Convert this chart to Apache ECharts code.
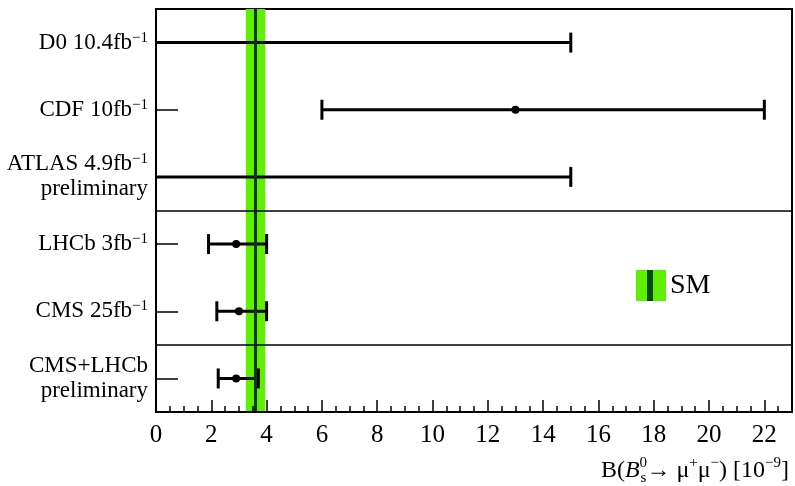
<!DOCTYPE html>
<html>
<head>
<meta charset="utf-8">
<script src="https://cdn.jsdelivr.net/npm/echarts@6/dist/echarts.min.js"></script>
<style>
  html, body { margin: 0; padding: 0; background: #fff; }
  #chart { width: 795px; height: 486px; }
</style>
</head>
<body>
<div id="chart"></div>
<script>
// Measurements, top to bottom (^ marks a superscript)
const experiments = ['D0 10.4fb^−1', 'CDF 10fb^−1', 'ATLAS 4.9fb^−1\npreliminary', 'LHCb 3fb^−1', 'CMS 25fb^−1', 'CMS+LHCb\npreliminary'];
const centralValues = [null, 13.0, null, 2.9, 3.0, 2.9];
const lowerEdges = [0, 6.0, 0, 1.9, 2.2, 2.25];
const upperEdges = [15, 22, 15, 4.0, 4.0, 3.7];
const isLimit = [true, false, true, false, false, false];

// Standard model prediction
const smValue = 3.6;
const smBand = [3.25, 3.95];

// categories that start a new section (horizontal separators)
const sectionStarts = [3, 5];

const serif = 'Liberation Serif';
const bandColor = '#5ef000';
const smLineColor = '#0d3b0d';

// legend icon: green box with dark stripe
const iconSvg = "<svg xmlns='http://www.w3.org/2000/svg' width='30' height='31'>" +
    "<rect width='30' height='31' fill='" + bandColor + "'/>" +
    "<rect x='11' width='6' height='31' fill='#0a4a0a'/></svg>";
const smIcon = 'image://data:image/svg+xml;charset=utf-8,' + encodeURIComponent(iconSvg);

// turn 'abc^xy' into rich text tokens
function richLabel(text) {
    return text.split('\n').map(line => {
        const parts = line.split('^');
        let out = '{m|' + parts[0] + '}';
        if (parts.length > 1) out += '{sup|' + parts[1] + '}';
        return out;
    }).join('\n');
}

const barData = experiments.map((name, i) => [
    i, lowerEdges[i], upperEdges[i],
    centralValues[i] === null ? '-' : centralValues[i],
    isLimit[i] ? 1 : 0
]);

const chart = echarts.init(document.getElementById('chart'));

const txt = { fontFamily: serif, color: '#000', fontWeight: 'normal' };

const options = {
    backgroundColor: '#fff',
    animation: false,
    grid: {
        left: 156, right: 3, top: 9, bottom: 74,
        show: true, borderColor: '#000', borderWidth: 2
    },
    title: {
        right: 1,
        top: 451,
        text: '{m|B(}{i|B}{sp|0}{sb|s}{m|→ μ}{sp2|+}{m|μ}{sp2|−}{m|) [10}{sp9|−9}{m|]}',
        textStyle: {
            fontWeight: 'normal',
            rich: {
                m: Object.assign({ fontSize: 24, lineHeight: 30 }, txt),
                i: Object.assign({ fontSize: 24, lineHeight: 30, fontStyle: 'italic' }, txt),
                sp: Object.assign({ fontSize: 15, lineHeight: 13, verticalAlign: 'top', width: 1 }, txt),
                sb: Object.assign({ fontSize: 15, lineHeight: 13, verticalAlign: 'bottom' }, txt),
                sp2: Object.assign({ fontSize: 15, lineHeight: 17, verticalAlign: 'top' }, txt),
                sp9: Object.assign({ fontSize: 15, lineHeight: 13, verticalAlign: 'top' }, txt)
            }
        }
    },
    legend: {
        left: 631,
        top: 265,
        itemWidth: 30,
        itemHeight: 31,
        itemGap: 4,
        data: [{ name: 'SM', icon: smIcon }],
        textStyle: { fontFamily: serif, fontSize: 28, color: '#000', padding: [0, 0, 0, -1] }
    },
    xAxis: [
        {
            type: 'value', min: 0, max: 23, interval: 2, z: 10,
            axisLine: { show: true, lineStyle: { color: '#000', width: 2 } },
            axisTick: { show: true, inside: true, length: 12, lineStyle: { color: '#000', width: 1.5 } },
            axisLabel: {
                margin: 11, showMaxLabel: false,
                fontFamily: serif, fontSize: 25, color: '#000',
                formatter: v => (v % 2 === 0 ? String(v) : '')
            },
            splitLine: { show: false }
        },
        {
            type: 'value', min: 0, max: 23, interval: 0.5, z: 10, position: 'bottom',
            axisLine: { show: false },
            axisTick: { show: true, inside: true, length: 6, lineStyle: { color: '#000', width: 1.5 } },
            axisLabel: { show: false },
            splitLine: { show: false }
        }
    ],
    yAxis: {
        type: 'category',
        inverse: true,
        data: experiments,
        z: 10,
        axisLine: { show: true, lineStyle: { color: '#000', width: 2 } },
        axisTick: { show: true, inside: true, alignWithLabel: true, length: 22, lineStyle: { color: '#000', width: 1.5 } },
        splitLine: {
            show: true,
            interval: (idx) => sectionStarts.includes(idx),
            lineStyle: { color: '#000', width: 1.5 }
        },
        axisLabel: {
            margin: 8,
            formatter: v => richLabel(v),
            rich: {
                m: Object.assign({ fontSize: 23, lineHeight: 25, align: 'right' }, txt),
                sup: Object.assign({ fontSize: 15, lineHeight: 12, verticalAlign: 'top', align: 'right' }, txt)
            }
        }
    },
    series: [
        {
            name: 'SM',
            type: 'line',
            data: [],
            z: 1,
            itemStyle: { color: bandColor },
            markArea: {
                silent: true,
                itemStyle: { color: bandColor, opacity: 1 },
                data: [[{ xAxis: smBand[0] }, { xAxis: smBand[1] }]]
            },
            markLine: {
                silent: true,
                symbol: 'none',
                label: { show: false },
                lineStyle: { color: smLineColor, width: 3, type: 'solid' },
                data: [{ xAxis: smValue }]
            }
        },
        {
            name: 'measurements',
            type: 'custom',
            z: 3,
            encode: { x: [1, 2], y: 0 },
            data: barData,
            renderItem: function (params, api) {
                const row = api.value(0);
                const lo = api.coord([api.value(1), row]);
                const hi = api.coord([api.value(2), row]);
                const center = api.value(3);
                const limit = api.value(4) === 1;
                const style = { stroke: '#000', lineWidth: 3 };
                const capHalf = 10;
                const children = [
                    { type: 'line', shape: { x1: lo[0], y1: lo[1], x2: hi[0], y2: hi[1] }, style: style },
                    { type: 'line', shape: { x1: hi[0], y1: hi[1] - capHalf, x2: hi[0], y2: hi[1] + capHalf }, style: style }
                ];
                if (!limit) {
                    children.push({ type: 'line', shape: { x1: lo[0], y1: lo[1] - capHalf, x2: lo[0], y2: lo[1] + capHalf }, style: style });
                }
                if (!isNaN(center)) {
                    const c = api.coord([center, row]);
                    children.push({ type: 'circle', shape: { cx: c[0], cy: c[1], r: 4 }, style: { fill: '#000' } });
                }
                return { type: 'group', children: children };
            }
        }
    ]
};

chart.setOption(options);
</script>
</body>
</html>
